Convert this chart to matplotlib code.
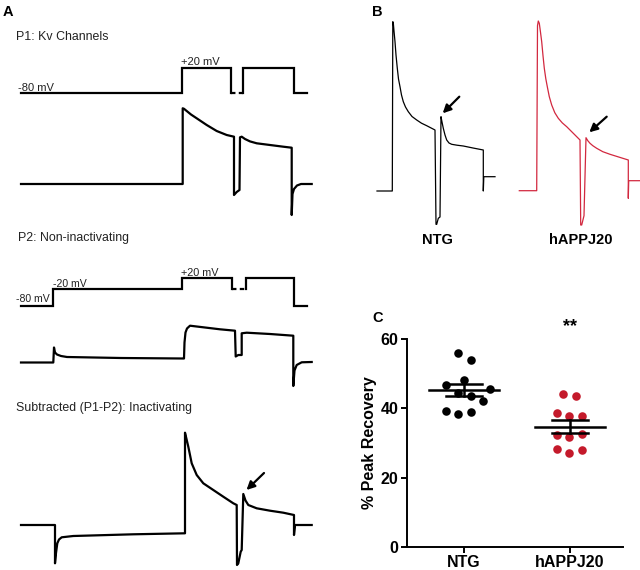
import matplotlib
matplotlib.use("Agg")
import matplotlib.pyplot as plt
import numpy as np

plt.rcParams['font.family'] = ['Liberation Sans', 'DejaVu Sans']

# ---------------- DATA ----------------
# Panel A: voltage protocols (time in ms-like units, voltage in mV)
p1_v_t = [0, 161, 161, 210, 210]
p1_v = [-80, -80, 20, 20, -80]
p1_v_t2 = [222, 222, 273, 273, 286]
p1_v2 = [-80, 20, 20, -80, -80]
p1_gap_t = [210, 222]
p1_gap_v = [-80, -80]

p2_v_t = [0, 31.5, 31.5, 161, 161, 211, 211]
p2_v = [-80, -80, -20, -20, 20, 20, -20]
p2_v_t2 = [225, 225, 273, 273, 286]
p2_v2 = [-20, 20, 20, -80, -80]
p2_gap_t = [211, 225]
p2_gap_v = [-20, -20]

# Panel A: currents (relative units)
p1_t = [0, 161.7, 161.7, 163, 165.7, 170, 175.7, 185.7, 195.7, 205.7, 213, 213, 215.7, 218.5,
        219, 220.7, 224, 229, 235.7, 249, 262.3, 270.7, 270.7, 271.5, 273, 276, 280, 290.7]
p1_i = [0, 0, 75.7, 75.2, 73, 69.5, 65.7, 59, 53, 49, 47.3, -11, -8, -6,
        46.7, 47.3, 45, 42.6, 40.7, 39, 37.3, 36.3, -31, -10, -5, -1.5, 0, 0]

p2_t = [0, 32.3, 33, 34, 36, 40, 46, 100, 162, 163, 163.5, 164.5, 166, 169, 182.3,
        199, 214, 214.7, 217.3, 220.7, 220.7, 225.7, 249, 272.3, 272.3, 273.5, 275.7,
        280.7, 290.7]
p2_i = [0, 0, 15, 10, 8, 6.5, 5.5, 4.5, 4, 4, 20, 30, 34, 36.8, 35.2,
        33.2, 31.8, 6, 7.5, 7.5, 29.2, 29.8, 28.5, 26.8, -23.5, -8, -2.5,
        0.2, 0.5]

sub_t = [0, 34, 34, 35, 36.3, 38, 40.7, 52.3, 112.3, 164, 164, 165.5, 167.3, 170.7, 175.7,
         182.3, 192.3, 202.3, 212.3, 215.7, 216, 217.3, 219.7, 220.7, 222.3, 224.5, 227.3,
         235.7, 249, 262.3, 273, 273, 274, 290.7]
sub_i = [0, 0, -38.3, -28, -18.3, -14.5, -12.3, -11, -9.3, -8.3, 92.3, 86, 78.3, 61.7, 50,
         41.7, 35, 28.3, 21.7, 20, -40, -38.3, -26.7, -25, 31, 24.5, 20,
         16.7, 14.3, 12.3, 10, -10, 0, 0]

# Panel B: recovery traces (relative units)
ntg_t = [0, 15.3, 15.8, 16.3, 17, 18, 19, 20.3, 21.5, 23, 24.5, 26.3, 28.5, 31.3, 35, 39.7,
         44.5, 49.7, 58, 59, 59.7, 61.3, 63, 64, 65, 66.3, 68, 69.7, 72, 74.7, 80, 86.3,
         96, 106.3, 106.3, 106.8, 118]
ntg_i = [0, 0, 169.3, 168, 160, 149.3, 136, 122.7, 112, 104.3, 96, 89.3, 84, 79.3, 74.5, 71,
         67.8, 65.3, 61, -33.3, -33.3, -27.3, -26, 74.3, 69, 62.7, 56, 51, 48, 46.7, 45.8, 45,
         43, 41, 0, 14.3, 14.3]

app_t = [0, 17.4, 18.2, 19, 20, 21, 22.4, 23.7, 25, 26.5, 28, 30, 32.4, 35.5, 39, 43, 47.4,
         55.7, 60.7, 61.4, 62.4, 64.7, 66.7, 68.5, 70.7, 73.5, 77.4, 83.5, 90.7, 100, 109,
         109, 109.4, 120.7]
app_i = [0, 0, 165, 169.7, 167.4, 160, 149, 135, 122.4, 112, 104, 94, 85.7, 78, 72.4, 67.8,
         64, 55.7, 50.7, -34.3, -34.3, -25, 53, 50, 47.4, 45, 42.4, 39, 36.4, 33.5, 30.7,
         -7.6, 10, 10]

# Panel C: % peak recovery
groups = ["NTG", "hAPPJ20"]
ntg_vals = [55.9, 54.0, 46.8, 48.2, 44.5, 43.5, 45.5, 42.2, 39.3, 38.4, 38.8]
app_vals = [44.1, 43.5, 38.7, 37.8, 37.8, 32.3, 31.8, 32.6, 28.4, 27.2, 27.9]
yticks = [0, 20, 40, 60]

# ---------------- LAYOUT ----------------
W, H = 640, 570
fig = plt.figure(figsize=(W / 100, H / 100), dpi=100)

def px_axes(x0, y0, x1, y1, tref, yref, vscale=1.0):
    ax = fig.add_axes([x0 / W, 1 - y1 / H, (x1 - x0) / W, (y1 - y0) / H])
    ax.set_xlim(x0 - tref, x1 - tref)
    ax.set_ylim((yref - y1) / vscale, (yref - y0) / vscale)
    ax.axis('off')
    return ax

def ftext(x, y, s, **kw):
    fig.text(x / W, 1 - y / H, s, **kw)

LW_A = 1.6
TXT = '#222222'
arrow_kw = dict(arrowstyle='-|>', color='k', lw=1.6, mutation_scale=12, shrinkA=0, shrinkB=0)

# panel letters
ftext(3, 12, "A", fontsize=10.5, fontweight='bold', va='center', ha='left')
ftext(372, 12, "B", fontsize=10.5, fontweight='bold', va='center', ha='left')
ftext(372, 318, "C", fontsize=10.5, fontweight='bold', va='center', ha='left')

# --- P1 ---
ftext(16, 37, "P1: Kv Channels", fontsize=8.9, va='center', ha='left', color=TXT)
ax = px_axes(10, 55, 320, 100, 21, 73, 0.25)
ax.plot(p1_v_t, p1_v, color='k', lw=LW_A, solid_joinstyle='miter')
ax.plot(p1_v_t2, p1_v2, color='k', lw=LW_A, solid_joinstyle='miter')
ax.plot(p1_gap_t, p1_gap_v, color='k', lw=LW_A, ls=(0, (2, 1.5)))
ftext(18, 88, "-80 mV", fontsize=8, va='center', ha='left', color=TXT)
ftext(181, 62, "+20 mV", fontsize=8, va='center', ha='left', color=TXT)

ax = px_axes(10, 100, 320, 220, 21, 184)
ax.plot(p1_t, p1_i, color='k', lw=LW_A, solid_joinstyle='round')

# --- P2 ---
ftext(18, 238, "P2: Non-inactivating", fontsize=8.9, va='center', ha='left', color=TXT)
ax = px_axes(10, 265, 320, 312, 21, 283.8, 0.274)
ax.plot(p2_v_t, p2_v, color='k', lw=LW_A, solid_joinstyle='miter')
ax.plot(p2_v_t2, p2_v2, color='k', lw=LW_A, solid_joinstyle='miter')
ax.plot(p2_gap_t, p2_gap_v, color='k', lw=LW_A, ls=(0, (2, 1.5)))
ftext(16, 299, "-80 mV", fontsize=7.6, va='center', ha='left', color=TXT)
ftext(53, 284, "-20 mV", fontsize=7.6, va='center', ha='left', color=TXT)
ftext(181, 273, "+20 mV", fontsize=7.8, va='center', ha='left', color=TXT)

ax = px_axes(10, 315, 320, 395, 21, 362.5)
ax.plot(p2_t, p2_i, color='k', lw=LW_A, solid_joinstyle='round')

# --- Subtracted ---
ftext(16, 408, "Subtracted (P1-P2): Inactivating", fontsize=8.9, va='center', ha='left',
      color=TXT)
ax = px_axes(10, 425, 320, 570, 21, 525)
ax.plot(sub_t, sub_i, color='k', lw=LW_A, solid_joinstyle='round')
ax.annotate("", xy=(225.5, 35), xytext=(243, 52), arrowprops=arrow_kw)

# --- Panel B ---
ax = px_axes(370, 15, 505, 230, 377, 191)
ax.plot(ntg_t, ntg_i, color='k', lw=0.9)
ax.annotate("", xy=(65.7, 77.7), xytext=(82.3, 94.3), arrowprops=arrow_kw)
ftext(437, 240, "NTG", fontsize=10.5, fontweight='bold', va='center', ha='center')

ax = px_axes(510, 15, 640, 230, 519.3, 190.7)
ax.plot(app_t, app_i, color='#d2283f', lw=0.9)
ax.annotate("", xy=(70, 58.4), xytext=(87.4, 74), arrowprops=arrow_kw)
ftext(581, 240, "hAPPJ20", fontsize=10.5, fontweight='bold', va='center', ha='center')

# --- Panel C ---
axc = fig.add_axes([407 / W, 1 - 547 / H, 216 / W, 208 / H])
# horizontal scatter positions (layout, group units)
offs_ntg = [-0.057, 0.063, -0.173, 0.0, -0.057, 0.063, 0.242, 0.179, -0.173, -0.057, 0.063]
offs_app = [-0.063, 0.057, -0.126, -0.006, 0.11, -0.126, -0.006, 0.11, -0.126, -0.006, 0.11]
colors = ['k', '#c41a2b']
for gi, (vals, offs) in enumerate([(ntg_vals, offs_ntg), (app_vals, offs_app)]):
    xs = gi + np.array(offs)
    axc.scatter(xs, vals, s=38, color=colors[gi], zorder=3, linewidths=0)
    m = np.mean(vals)
    sem = np.std(vals, ddof=1) / np.sqrt(len(vals))
    axc.plot([gi - 0.33, gi + 0.33], [m, m], color='k', lw=1.8, zorder=4)
    axc.plot([gi - 0.17, gi + 0.17], [m + sem, m + sem], color='k', lw=1.8, zorder=4)
    axc.plot([gi - 0.17, gi + 0.17], [m - sem, m - sem], color='k', lw=1.8, zorder=4)
    axc.plot([gi, gi], [m - sem, m + sem], color='k', lw=1.8, zorder=4)

axc.set_xlim(-0.54, 1.5)
axc.set_ylim(0, 60)
axc.set_yticks(yticks)
axc.set_yticklabels([str(v) for v in yticks], fontsize=11.5, fontweight='bold')
axc.set_xticks([0, 1])
axc.set_xticklabels(groups, fontsize=11.5, fontweight='bold')
axc.spines['top'].set_visible(False)
axc.spines['right'].set_visible(False)
for s in ['left', 'bottom']:
    axc.spines[s].set_linewidth(1.4)
axc.tick_params(width=1.4, length=4, pad=2)
axc.set_ylabel("% Peak Recovery", fontsize=11.5, fontweight='bold', labelpad=3)
axc.text(1, 63.5, "**", fontsize=13, fontweight='bold', ha='center', va='center')

fig.savefig("out.png", dpi=100)
